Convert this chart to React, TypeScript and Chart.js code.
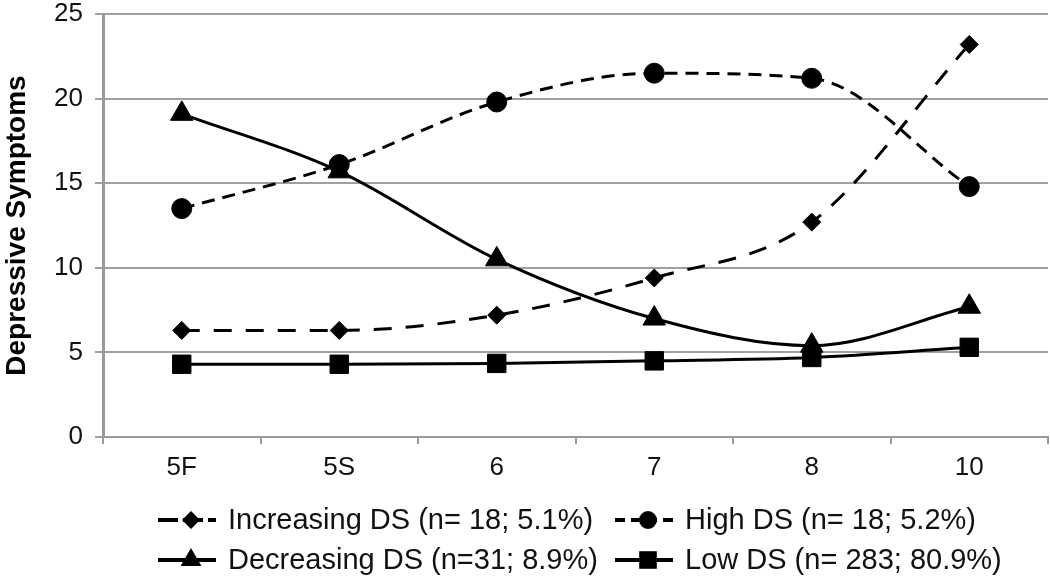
import React, { useEffect, useRef } from "react";
import { Chart, registerables } from "chart.js";

Chart.register(...registerables);

const categories = ["5F", "5S", "6", "7", "8", "10"];
const increasingDS = [6.3, 6.3, 7.2, 9.4, 12.7, 23.2];
const highDS = [13.5, 16.1, 19.8, 21.5, 21.2, 14.8];
const decreasingDS = [19.1, 15.7, 10.5, 7.0, 5.4, 7.7];
const lowDS = [4.3, 4.3, 4.35, 4.5, 4.7, 5.3];
const seriesLabels = [
  "Increasing DS (n= 18; 5.1%)",
  "High DS (n= 18; 5.2%)",
  "Decreasing DS (n=31; 8.9%)",
  "Low DS (n= 283; 80.9%)",
];
const yMin = 0;
const yMax = 25;
const yStep = 5;
const yTitle = "Depressive Symptoms";

const FONT = "'Liberation Sans', Arial, Helvetica, sans-serif";

function drawMarker(ctx: CanvasRenderingContext2D, style: string, x: number, y: number, r: number) {
  ctx.beginPath();
  if (style === "rectRot") {
    ctx.moveTo(x, y - r);
    ctx.lineTo(x + r, y);
    ctx.lineTo(x, y + r);
    ctx.lineTo(x - r, y);
    ctx.closePath();
  } else if (style === "circle") {
    ctx.arc(x, y, r, 0, Math.PI * 2);
  } else if (style === "triangle") {
    ctx.moveTo(x, y - r);
    ctx.lineTo(x + r * 0.866, y + r * 0.5);
    ctx.lineTo(x - r * 0.866, y + r * 0.5);
    ctx.closePath();
  } else {
    const s = r * 0.8;
    ctx.rect(x - s, y - s, 2 * s, 2 * s);
  }
  ctx.fill();
}

const legendPlugin = {
  id: "customLegend",
  afterDraw(chart: any) {
    const ctx: CanvasRenderingContext2D = chart.ctx;
    const cols = [158, 615];
    const rows = [520, 560];
    chart.data.datasets.forEach((ds: any, i: number) => {
      const x0 = cols[i % 2];
      const y = rows[Math.floor(i / 2)];
      ctx.save();
      ctx.strokeStyle = "#000";
      ctx.fillStyle = "#000";
      ctx.lineWidth = 4;
      ctx.setLineDash(ds.legendDash || []);
      ctx.beginPath();
      ctx.moveTo(x0, y);
      ctx.lineTo(x0 + 58, y);
      ctx.stroke();
      ctx.setLineDash([]);
      drawMarker(ctx, ds.pointStyle, x0 + 33, y, ds.legendRadius);
      ctx.font = `29px ${FONT}`;
      ctx.textBaseline = "middle";
      ctx.textAlign = "left";
      ctx.fillStyle = "#111";
      ctx.fillText(ds.label, x0 + 70, y + 1);
      ctx.restore();
    });
  },
};

export default function App() {
  const ref = useRef<HTMLCanvasElement | null>(null);

  useEffect(() => {
    document.body.style.margin = "0";
    if (!ref.current) return;
    const common = {
      borderColor: "#000",
      backgroundColor: "#000",
      pointBackgroundColor: "#000",
      pointBorderColor: "#000",
      borderWidth: 3,
      cubicInterpolationMode: "monotone",
      pointBorderWidth: 1,
      fill: false,
    };
    const chart = new Chart(ref.current, {
      type: "line",
      data: {
        labels: categories,
        datasets: [
          { ...common, label: seriesLabels[0], data: increasingDS, borderDash: [18, 14], pointStyle: "rectRot", pointRadius: 9, legendDash: [20, 5], legendRadius: 9 } as any,
          { ...common, label: seriesLabels[1], data: highDS, borderDash: [13, 8], pointStyle: "circle", pointRadius: 10, legendDash: [10, 6], legendRadius: 9 } as any,
          { ...common, label: seriesLabels[2], data: decreasingDS, pointStyle: "triangle", pointRadius: 13, legendRadius: 12 } as any,
          { ...common, label: seriesLabels[3], data: lowDS, pointStyle: "rect", pointRadius: 13, legendRadius: 11 } as any,
        ],
      },
      options: {
        animation: false,
        responsive: false,
        maintainAspectRatio: false,
        layout: { padding: { top: 12, right: 2, left: 0, bottom: 0 } },
        plugins: { legend: { display: false }, tooltip: { enabled: false } },
        scales: {
          x: {
            offset: true,
            grid: {
              offset: true,
              drawOnChartArea: false,
              drawTicks: true,
              tickLength: 7,
              color: "#9a9a9a",
              lineWidth: 2,
            },
            border: { color: "#9a9a9a", width: 2 },
            ticks: { color: "#111", font: { family: FONT, size: 26 }, padding: 8 },
            afterFit: (s: any) => {
              s.height = 142;
            },
          },
          y: {
            min: yMin,
            max: yMax,
            ticks: { stepSize: yStep, color: "#111", font: { family: FONT, size: 26 }, padding: 12 },
            grid: { color: "#a0a0a0", lineWidth: 2, tickLength: 8 },
            border: { color: "#9a9a9a", width: 3 },
            title: {
              display: true,
              text: yTitle,
              color: "#000",
              font: { family: FONT, size: 28, weight: "bold" },
              padding: { top: 0, bottom: 0 },
            },
            afterFit: (s: any) => {
              s.width = 103;
              s.paddingTop = 0;
              s.paddingBottom = 0;
            },
          },
        },
      },
      plugins: [legendPlugin],
    });
    return () => chart.destroy();
  }, []);

  return (
    <div style={{ width: 1050, height: 579, background: "#fff", overflow: "hidden" }}>
      <canvas ref={ref} width={1062} height={579} style={{ display: "block" }} />
    </div>
  );
}
